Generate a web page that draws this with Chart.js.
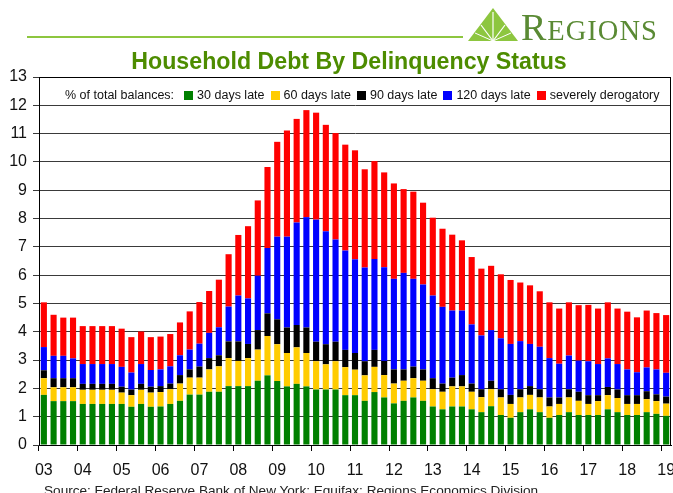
<!DOCTYPE html>
<html><head><meta charset="utf-8">
<script src="https://cdn.jsdelivr.net/npm/chart.js@4.4.1/dist/chart.umd.min.js"></script>
<style>
html,body{margin:0;padding:0;background:#fff;}
#wrap{position:relative;width:673px;height:493px;overflow:hidden;font-family:"Liberation Sans",Arial,sans-serif;}
#c{position:absolute;left:0;top:0;}
#title{position:absolute;left:0;width:698px;top:50px;text-align:center;font-weight:bold;font-size:23.2px;line-height:23px;color:#4d8c00;white-space:nowrap;}
#source{position:absolute;left:44px;top:484px;font-size:13.6px;line-height:13px;color:#222;white-space:nowrap;}
#rule{position:absolute;left:27px;top:36px;width:436px;height:2px;background:#8dc63f;}
#logo{position:absolute;left:521px;top:8px;font-family:"Liberation Serif","Times New Roman",serif;color:#5a8a34;font-size:38px;line-height:38px;white-space:nowrap;letter-spacing:1px;}
#logo .sc{font-size:28.5px;}
#mark{position:absolute;left:468px;top:8px;}
#legend{position:absolute;left:65px;top:88px;font-size:12.5px;line-height:14px;color:#111;white-space:nowrap;display:flex;align-items:center;}
#legend .sw{display:inline-block;width:9px;height:9px;margin-right:4px;}
#legend .it{margin-right:6px;display:flex;align-items:center;}
#legend .pre{margin-right:10px;}
</style></head>
<body><div id="wrap">
<canvas id="c" width="673" height="493"></canvas>
<div id="rule"></div>
<svg id="mark" width="50" height="34" viewBox="0 0 50 34">
  <polygon points="25,0 50,33 0,33" fill="#8dc63f"/>
  <line x1="25" y1="33" x2="13" y2="17" stroke="#fff" stroke-width="1.2"/>
  <line x1="25" y1="33" x2="25" y2="4" stroke="#fff" stroke-width="1.2"/>
  <line x1="25" y1="33" x2="37" y2="17" stroke="#fff" stroke-width="1.2"/>
  <line x1="25" y1="33" x2="7" y2="25" stroke="#fff" stroke-width="1"/>
  <line x1="25" y1="33" x2="43" y2="25" stroke="#fff" stroke-width="1"/>
</svg>
<div id="logo">R<span class="sc">EGIONS</span></div>
<div id="title">Household Debt By Delinquency Status</div>
<div id="legend"></div>
<div id="source">Source: Federal Reserve Bank of New York; Equifax; Regions Economics Division</div>
</div>
<script>
const yearLabels = ['03','04','05','06','07','08','09','10','11','12','13','14','15','16','17','18','19'];
const quarterNames = ['Q1','Q2','Q3','Q4'];
const seriesLabels = ['30 days late','60 days late','90 days late','120 days late','severely derogatory'];
const seriesColors = ['#008000','#ffcc00','#000000','#0000ff','#ff0000'];
const legendPrefix = '% of total balances:';

const late30 = [1.77,1.55,1.55,1.55,1.45,1.45,1.45,1.45,1.45,1.35,1.45,1.35, 1.36,1.45,1.56,1.78, 1.78,1.88,1.88,2.08, 2.08,2.08,2.27,2.46, 2.26,2.07,2.16,2.07, 1.96,1.96,1.96,1.76, 1.76,1.56,1.87,1.68, 1.47,1.56,1.68,1.56, 1.36,1.26,1.36,1.36, 1.26,1.16,1.37,1.06, 0.96,1.16,1.26,1.16, 0.96,1.06,1.16,1.06, 1.06,1.06,1.26,1.16, 1.06,1.06,1.16,1.10, 1.03];
const late60 = [0.59,0.49,0.49,0.49,0.50,0.50,0.50,0.50,0.40,0.41,0.50,0.50, 0.51,0.52,0.61,0.60, 0.60,0.79,0.90,0.99, 0.89,0.99,1.10,1.39, 1.30,1.18,1.29,1.18, 1.00,0.89,1.00,0.99, 0.90,0.90,0.89,0.79, 0.70,0.71,0.68,0.71, 0.61,0.62,0.71,0.71, 0.62,0.53,0.60,0.62, 0.49,0.52,0.51,0.52, 0.40,0.39,0.52,0.50, 0.39,0.49,0.50,0.50, 0.39,0.39,0.46,0.45, 0.43];
const late90 = [0.28,0.32,0.32,0.32,0.21,0.21,0.21,0.21,0.21,0.20,0.21,0.21, 0.21,0.20,0.30,0.29, 0.39,0.40,0.39,0.59, 0.69,0.50,0.69,0.80, 0.88,0.90,0.79,0.90, 0.69,0.71,0.69,0.61, 0.59,0.50,0.60,0.50, 0.50,0.40,0.41,0.40, 0.39,0.29,0.31,0.40, 0.29,0.28,0.30,0.29, 0.32,0.29,0.31,0.29, 0.32,0.23,0.29,0.32, 0.31,0.21,0.29,0.30, 0.31,0.31,0.28,0.24, 0.25];
const late120 = [0.82,0.79,0.79,0.70,0.70,0.70,0.70,0.70,0.70,0.60,0.70,0.59, 0.59,0.61,0.70,0.70, 0.81,0.89,0.99,1.23, 1.62,1.61,1.92,2.31, 2.92,3.21,3.62,3.90, 4.31,3.99,3.61,3.51, 3.31,3.31,3.21,3.31, 3.20,3.41,3.10,3.00, 2.92,2.71,2.37,2.28, 2.09,1.90,1.79,1.80, 1.80,1.70,1.49,1.50, 1.39,1.19,1.19,1.10, 1.20,1.10,1.01,0.90, 0.91,0.81,0.84,0.88, 0.84];
const severe = [1.58,1.45,1.35,1.44,1.34,1.34,1.34,1.34,1.35,1.25,1.15,1.16, 1.16,1.14,1.16,1.35, 1.47,1.48,1.68,1.85, 2.14,2.55,2.66,2.86, 3.35,3.75,3.66,3.78, 3.78,3.76,3.76,3.74, 3.85,3.47,3.46,3.35, 3.37,2.96,3.08,2.89, 2.75,2.76,2.68,2.48, 2.38,2.36,2.27,2.26, 2.26,2.07,2.07,1.96, 1.97,1.95,1.88,1.96, 1.99,1.96,1.98,1.96, 2.04,1.94,2.01,1.99, 2.04];

const seriesValues = [late30, late60, late90, late120, severe];
const categories = [];
yearLabels.forEach(y => quarterNames.forEach(q => categories.push('20' + y + ' ' + q)));
categories.length = late30.length;

// HTML legend built from the series arrays
const lg = document.getElementById('legend');
const pre = document.createElement('span'); pre.className = 'pre'; pre.textContent = legendPrefix; lg.appendChild(pre);
seriesLabels.forEach((l, i) => {
  const it = document.createElement('span'); it.className = 'it';
  const sw = document.createElement('span'); sw.className = 'sw'; sw.style.background = seriesColors[i];
  const tx = document.createElement('span'); tx.textContent = l;
  it.appendChild(sw); it.appendChild(tx); lg.appendChild(it);
});

const frame = {
  id: 'frame',
  afterDraw(chart) {
    const {ctx, chartArea: a} = chart;
    ctx.save();
    ctx.strokeStyle = '#000'; ctx.lineWidth = 1;
    ctx.beginPath();
    ctx.moveTo(a.left, a.top + 0.5); ctx.lineTo(a.right, a.top + 0.5);
    ctx.moveTo(a.right - 0.5, a.top); ctx.lineTo(a.right - 0.5, a.bottom);
    ctx.stroke();
    ctx.restore();
  }
};

const font = {family: '"Liberation Sans", Arial, sans-serif', size: 16};
new Chart(document.getElementById('c'), {
  type: 'bar',
  data: {
    labels: categories,
    datasets: seriesValues.map((v, i) => ({
      label: seriesLabels[i], data: v, backgroundColor: seriesColors[i],
      borderWidth: 0, categoryPercentage: 1, barPercentage: 0.63
    }))
  },
  options: {
    responsive: false, animation: false, devicePixelRatio: 1,
    layout: {padding: {left: 0, right: 2, top: 77, bottom: 0}},
    plugins: {legend: {display: false}, tooltip: {enabled: false}, title: {display: false}},
    scales: {
      x: {
        stacked: true, offset: true,
        grid: {display: true, drawOnChartArea: false, drawTicks: true, tickLength: 6, offset: true,
               color: c => (c.index % 4 === 0 ? '#000' : 'rgba(0,0,0,0)'), lineWidth: 1},
        border: {display: true, color: '#000', width: 1},
        ticks: {autoSkip: false, maxRotation: 0, minRotation: 0, padding: 10, color: '#111', font,
                callback: (v, i) => (i % 4 === 0 ? yearLabels[i / 4] : '')},
        afterFit: s => { s.height = 48; s.paddingLeft = 0; s.paddingRight = 0; }
      },
      y: {
        stacked: true, min: 0, max: 13,
        ticks: {stepSize: 1, padding: 6, color: '#111', font},
        grid: {color: '#3a3a3a', lineWidth: 1, tickLength: 6, drawTicks: true},
        border: {display: true, color: '#000', width: 1},
        afterFit: s => { s.width = 39; }
      }
    }
  },
  plugins: [frame]
});
</script>
</body></html>
